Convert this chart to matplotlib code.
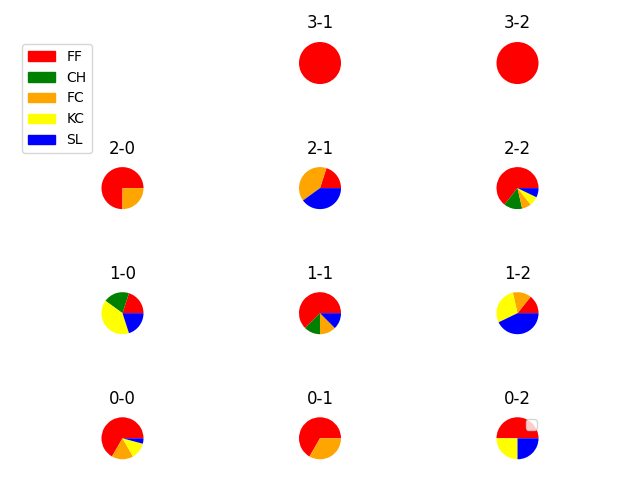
import matplotlib
matplotlib.use('Agg')
import matplotlib.pyplot as plt
import matplotlib.patches as mpatches

# pitch types and colours
PITCHES = ['FF', 'CH', 'FC', 'KC', 'SL']
COLORS = ['red', 'green', 'orange', 'yellow', 'blue']

# pitch counts per ball-strike count (order follows PITCHES)
COUNTS = ['3-0', '3-1', '3-2',
          '2-0', '2-1', '2-2',
          '1-0', '1-1', '1-2',
          '0-0', '0-1', '0-2']
c_3_0 = [0, 0, 0, 0, 0]
c_3_1 = [1, 0, 0, 0, 0]
c_3_2 = [1, 0, 0, 0, 0]
c_2_0 = [3, 0, 1, 0, 0]
c_2_1 = [2, 0, 4, 0, 4]
c_2_2 = [9, 2, 1, 1, 1]
c_1_0 = [2, 2, 0, 4, 2]
c_1_1 = [5, 1, 1, 0, 1]
c_1_2 = [1, 0, 1, 2, 3]
c_0_0 = [16, 0, 4, 3, 1]
c_0_1 = [2, 0, 1, 0, 0]
c_0_2 = [2, 0, 0, 1, 1]
VALUES = [c_3_0, c_3_1, c_3_2, c_2_0, c_2_1, c_2_2,
          c_1_0, c_1_1, c_1_2, c_0_0, c_0_1, c_0_2]

fig, axes = plt.subplots(4, 3, figsize=(6.4, 4.8), dpi=100)
plt.subplots_adjust(left=0.0742, right=0.9258, bottom=0.0322, top=0.9234,
                    wspace=0.3167, hspace=1.381)

for ax, name, vals in zip(axes.flat, COUNTS, VALUES):
    if sum(vals) == 0:
        ax.axis('off')
        continue
    ax.pie(vals, colors=COLORS)
    ax.set_title(name)

# stray empty legend box on the last panel
axes[3, 2].legend(handles=[], loc='upper right')

patches = [mpatches.Patch(color=c, label=p) for p, c in zip(PITCHES, COLORS)]
fig.legend(handles=patches, loc='upper left',
           bbox_to_anchor=(22 / 640, 1 - 44 / 480), borderaxespad=0)

plt.savefig('out.png', dpi=100)
